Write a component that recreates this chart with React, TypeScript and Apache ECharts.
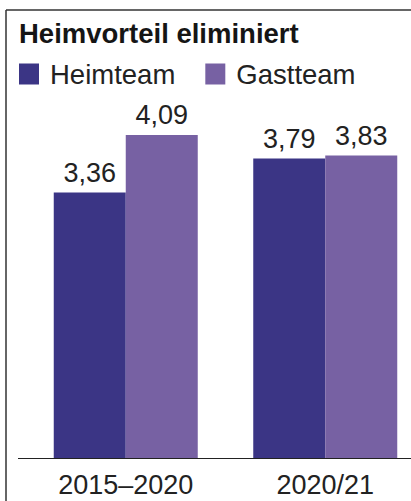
import React, { useEffect, useRef } from "react";
import * as echarts from "echarts";

const categories = ["2015–2020", "2020/21"];
const seriesNames = ["Heimteam", "Gastteam"];
const heimteam = [3.36, 3.79];
const gastteam = [4.09, 3.83];
const colors = ["#3b3585", "#7761a3"];

const fmt = (v: number) => v.toFixed(2).replace(".", ",");

export default function App() {
  const ref = useRef<HTMLDivElement>(null);
  useEffect(() => {
    if (!ref.current) return;
    const chart = echarts.init(ref.current, undefined, { renderer: "svg" });
    const font = "'Liberation Sans', Arial, sans-serif";
    chart.setOption({
      animation: false,
      backgroundColor: "#ffffff",
      title: {
        text: "Heimvorteil eliminiert",
        left: 19,
        top: 19,
        padding: 0,
        textStyle: { fontFamily: font, fontSize: 27.5, fontWeight: "bold", color: "#151515" },
      },
      legend: {
        left: 19,
        top: 60,
        padding: 0,
        icon: "rect",
        itemWidth: 20,
        itemHeight: 21,
        itemGap: 30,
        data: seriesNames,
        textStyle: { fontFamily: font, fontSize: 27.5, color: "#222", padding: [0, 0, 0, 6] },
      },
      grid: { left: 26, width: 399, top: 63, bottom: 43, outerBoundsMode: "none", containLabel: false },
      xAxis: {
        type: "category",
        data: categories,
        axisLine: { show: false },
        axisTick: { show: false },
        axisLabel: { fontFamily: font, fontSize: 27, color: "#222", margin: 13 },
      },
      yAxis: {
        type: "value",
        min: 0,
        max: 5,
        show: false,
        splitLine: { show: false },
      },
      graphic: [
        { type: "line", shape: { x1: 6, y1: 10, x2: 411, y2: 10 }, style: { stroke: "#333", lineWidth: 1.5 } },
        { type: "line", shape: { x1: 6, y1: 10, x2: 6, y2: 501 }, style: { stroke: "#333", lineWidth: 1.5 } },
        { type: "line", shape: { x1: 18, y1: 458.5, x2: 411, y2: 458.5 }, style: { stroke: "#222", lineWidth: 1 }, z: 10 },
      ],
      series: [
        {
          name: seriesNames[0],
          type: "bar",
          data: heimteam,
          barWidth: 72,
          barGap: "0%",
          itemStyle: { color: colors[0] },
          label: {
            show: true,
            position: "top",
            distance: 6,
            formatter: (p: any) => fmt(p.value),
            fontFamily: font,
            fontSize: 27,
            color: "#222",
          },
        },
        {
          name: seriesNames[1],
          type: "bar",
          data: gastteam,
          barWidth: 72,
          barGap: "0%",
          itemStyle: { color: colors[1] },
          label: {
            show: true,
            position: "top",
            distance: 6,
            formatter: (p: any) => fmt(p.value),
            fontFamily: font,
            fontSize: 27,
            color: "#222",
          },
        },
      ],
    });
    return () => chart.dispose();
  }, []);
  return (
    <div
      ref={ref}
      style={{ position: "fixed", left: 0, top: 0, width: 411, height: 501 }}
    />
  );
}
